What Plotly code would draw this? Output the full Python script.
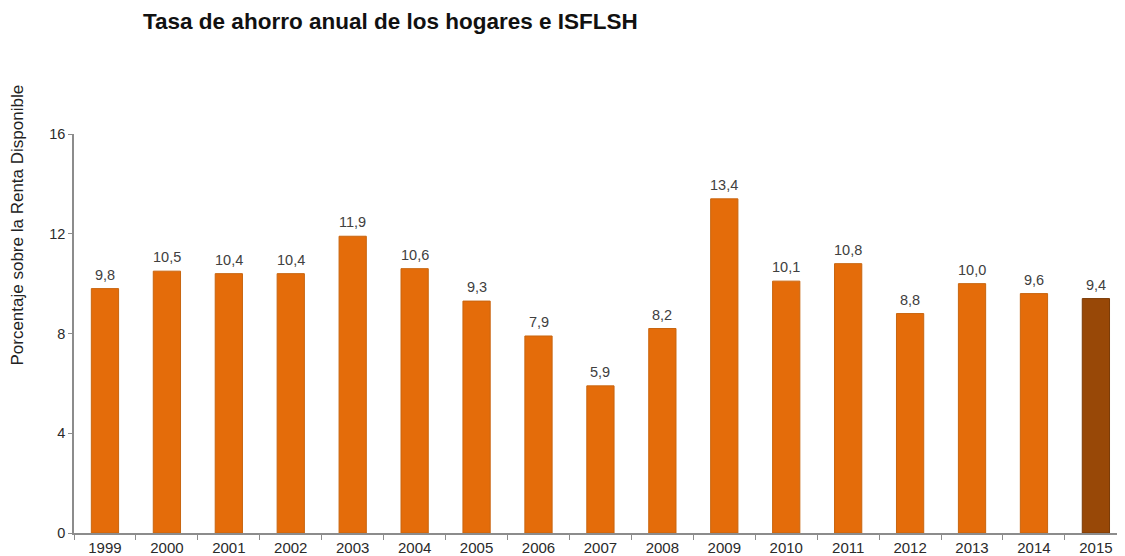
import plotly.graph_objects as go

years = ["1999", "2000", "2001", "2002", "2003", "2004", "2005", "2006", "2007",
         "2008", "2009", "2010", "2011", "2012", "2013", "2014", "2015"]
values = [9.8, 10.5, 10.4, 10.4, 11.9, 10.6, 9.3, 7.9, 5.9,
          8.2, 13.4, 10.1, 10.8, 8.8, 10.0, 9.6, 9.4]
y_ticks = [0, 4, 8, 12, 16]

labels = [f"{v:.1f}".replace(".", ",") for v in values]
colors = ["#E46C0A"] * (len(years) - 1) + ["#984807"]
lines = ["#C8650F"] * (len(years) - 1) + ["#7A3A06"]

font = "Liberation Sans, Arial, sans-serif"

# The page body has an 8px margin, so the figure is sized to fill the rest.
W, H = 1117, 548
ML, MT, MB, MR = 66, 126, 21, 0
PW, PH = W - ML - MR, H - MT - MB

fig = go.Figure(go.Bar(
    x=years, y=values,
    marker=dict(color=colors, line=dict(color=lines, width=1)),
    cliponaxis=False,
))

annotations = [
    dict(x=i, y=v, xref="x", yref="y", text=lab, showarrow=False,
         xanchor="center", yanchor="bottom", yshift=4,
         font=dict(family=font, size=14.5, color="#404040"))
    for i, (v, lab) in enumerate(zip(values, labels))
]
annotations.append(dict(
    text="Porcentaje sobre la Renta Disponible",
    xref="paper", yref="paper", x=(10 - ML) / PW, y=(PH - (218 - MT)) / PH,
    xanchor="center", yanchor="middle", textangle=-90, showarrow=False,
    font=dict(family=font, size=17, color="#222"),
))

fig.update_layout(
    width=W, height=H,
    margin=dict(l=ML, r=MR, t=MT, b=MB),
    paper_bgcolor="white", plot_bgcolor="white",
    bargap=0.56,
    showlegend=False,
    font=dict(family=font, size=14, color="#222"),
    title=dict(text="<b>Tasa de ahorro anual de los hogares e ISFLSH</b>",
               x=135 / W, xanchor="left", xref="container",
               y=1 - 13 / H, yanchor="middle",
               font=dict(family=font, size=22.5, color="#111")),
    annotations=annotations,
)

fig.update_xaxes(
    type="category", range=[-0.5, 16.47],
    showline=True, linecolor="#8C8C8C", linewidth=1.5,
    ticks="outside", tickson="boundaries", ticklen=5, tickcolor="#8C8C8C",
    tickfont=dict(family=font, size=15, color="#2A2A2A"),
    showgrid=False,
)
fig.update_yaxes(
    range=[0, 16], tickvals=y_ticks,
    showline=True, linecolor="#8C8C8C", linewidth=1.5,
    ticks="outside", ticklen=4, tickcolor="#8C8C8C",
    tickfont=dict(family=font, size=14.5, color="#2A2A2A"),
    showgrid=False, zeroline=False,
)

fig.write_html("out.html")
